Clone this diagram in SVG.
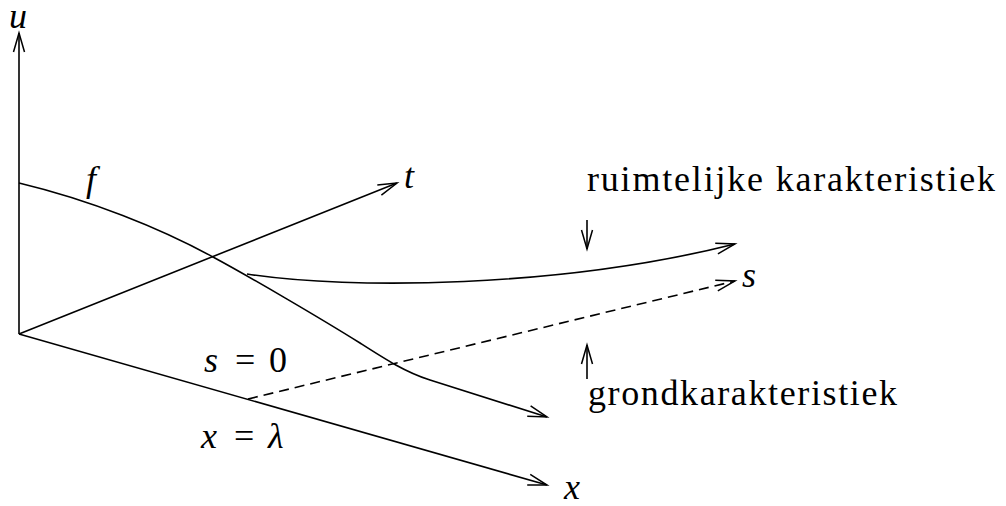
<svg xmlns="http://www.w3.org/2000/svg" width="1006" height="506" viewBox="0 0 1006 506">
<defs>
<marker id="ah" markerUnits="userSpaceOnUse" markerWidth="24" markerHeight="14" viewBox="-22 -7 24 14" refX="0" refY="0" orient="auto" overflow="visible">
<path d="M-19,-5.5 L0,0 L-19,5.5" fill="none" stroke="#000" stroke-width="1.5"/>
</marker>
</defs>
<rect width="1006" height="506" fill="#fff"/>
<g id="connectors" fill="none" stroke="#000" stroke-width="1.6" stroke-linejoin="round">
<line id="u-axis" x1="19" y1="334" x2="19" y2="33" marker-end="url(#ah)"/>
<line id="t-axis" x1="19" y1="334" x2="397" y2="183" marker-end="url(#ah)"/>
<line id="x-axis" x1="19" y1="334" x2="547" y2="485" marker-end="url(#ah)"/>
<path id="f-curve" d="M19,183 C90,200 160,228 213,257 C250,277 320,318 360,343 C385,359 405,372 430,380 C470,393 510,405 547,417" marker-end="url(#ah)"/>
<path id="ruimtelijke-kar" d="M247,274 C350,290 560,288 735,244" marker-end="url(#ah)"/>
<line id="grond-kar" x1="248" y1="399" x2="735" y2="281" stroke-dasharray="10 6" marker-end="url(#ah)"/>
<line id="pointer-down" x1="587" y1="220" x2="587" y2="249" marker-end="url(#ah)"/>
<line id="pointer-up" x1="587" y1="379" x2="587" y2="345" marker-end="url(#ah)"/>
</g>
<g id="labels" fill="#000">
<text x="9" y="28" font-size="36" font-family="Times New Roman" font-style="italic">u</text>
<text x="86" y="191" font-size="36" font-family="Times New Roman" font-style="italic">f</text>
<text x="404" y="188" font-size="36" font-family="Times New Roman" font-style="italic">t</text>
<text x="742" y="287" font-size="36" font-family="Times New Roman" font-style="italic">s</text>
<text x="564" y="499" font-size="36" font-family="Times New Roman" font-style="italic">x</text>
<text x="204" y="372" font-size="36" font-family="Times New Roman" font-style="italic">s</text>
<text x="235" y="372" font-size="36" font-family="Times New Roman">=</text>
<text x="269" y="372" font-size="36" font-family="Times New Roman">0</text>
<text x="201" y="448" font-size="36" font-family="Times New Roman" font-style="italic">x</text>
<text x="234" y="448" font-size="36" font-family="Times New Roman">=</text>
<text x="268" y="448" font-size="36" font-family="Times New Roman" font-style="italic">λ</text>
<text x="587" y="191" font-size="36" font-family="Times New Roman" textLength="408" lengthAdjust="spacing">ruimtelijke karakteristiek</text>
<text x="588" y="405" font-size="36" font-family="Times New Roman" textLength="309" lengthAdjust="spacing">grondkarakteristiek</text>
</g>
</svg>
